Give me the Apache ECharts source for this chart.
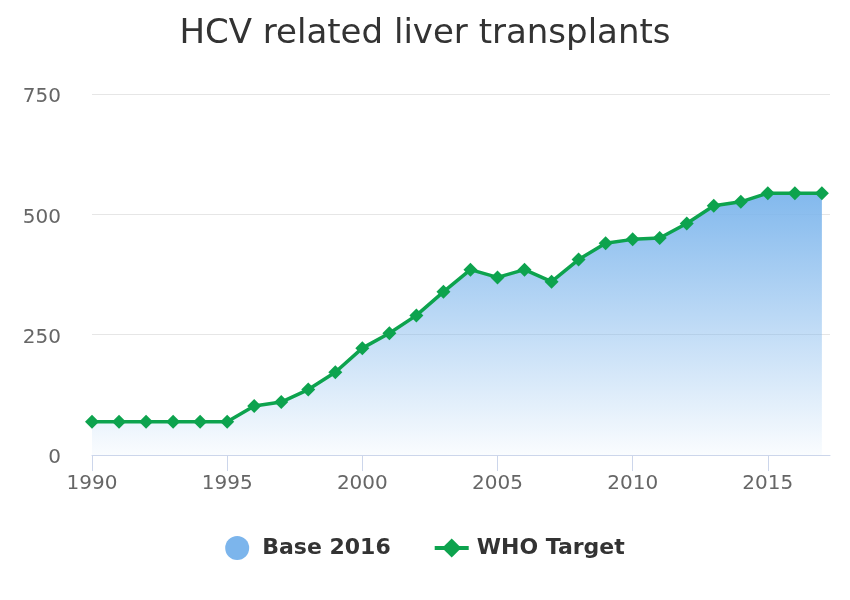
<!DOCTYPE html>
<html>
<head>
<meta charset="utf-8">
<script src="https://cdn.jsdelivr.net/npm/echarts@6/dist/echarts.min.js"></script>
<style>html,body{margin:0;padding:0;background:#fff}#c{width:850px;height:600px}</style>
</head>
<body>
<div id="c"></div>
<script>
var years = [1990,1991,1992,1993,1994,1995,1996,1997,1998,1999,2000,2001,2002,2003,2004,2005,2006,2007,2008,2009,2010,2011,2012,2013,2014,2015,2016,2017];
var base2016 = [69,69,69,69,69,69,102,110,136,172,222,253,290,339,385,369,385,360,406,440,448,451,481,518,526,544,544,544];
var whoTarget = [69,69,69,69,69,69,102,110,136,172,222,253,290,339,385,369,385,360,406,440,448,451,481,518,526,544,544,544];
var xTicks = [1990,1995,2000,2005,2010,2015];
var yTicks = [0,250,500,750];

var font = 'DejaVu Sans';
function pairs(v){ return years.map(function(y,i){ return [y, v[i]]; }); }

var chart = echarts.init(document.getElementById('c'), null, {renderer:'canvas'});
chart.setOption({
  animation: false,
  backgroundColor: '#ffffff',
  title: {
    text: 'HCV related liver transplants',
    left: 'center', top: 12,
    textStyle: { fontFamily: font, fontSize: 34, fontWeight: 'normal', color: '#333333' }
  },
  legend: {
    bottom: 35, left: 'center',
    itemWidth: 34, itemHeight: 24, itemGap: 42,
    textStyle: { fontFamily: font, fontSize: 22, fontWeight: 'bold', color: '#333333', padding: [0,0,0,3] },
    data: [{name: 'Base 2016', icon: 'circle'}, {name: 'WHO Target', lineStyle: { width: 4 }}]
  },
  grid: { left: 92, right: 20, top: 94, bottom: 145, containLabel: false },
  xAxis: {
    type: 'value', min: 1990, max: 2017.3,
    axisLine: { show: true, lineStyle: { color: '#ccd6eb', width: 1 } },
    axisTick: { show: true, length: 16, customValues: xTicks, lineStyle: { color: '#ccd6eb' } },
    axisLabel: { customValues: xTicks, margin: 19, fontFamily: font, fontSize: 20, color: '#666666',
      formatter: function(v){ return String(v); } },
    splitLine: { show: false }
  },
  yAxis: {
    type: 'value', min: 0, max: 750, interval: 250,
    axisLine: { show: false }, axisTick: { show: false },
    axisLabel: { margin: 31, fontFamily: font, fontSize: 20, color: '#666666',
      verticalAlign: 'top', lineHeight: 6,
      customValues: yTicks, formatter: function(v){ return String(v); } },
    splitLine: { show: true, lineStyle: { color: '#e6e6e6', width: 1 } }
  },
  series: [
    {
      name: 'Base 2016', type: 'line', data: pairs(base2016),
      color: '#7cb5ec', showSymbol: false, symbol: 'none',
      lineStyle: { width: 0, opacity: 0 },
      areaStyle: {
        opacity: 1,
        color: new echarts.graphic.LinearGradient(0, 0, 0, 1, [
          { offset: 0, color: 'rgba(124,181,236,0.95)' },
          { offset: 1, color: 'rgba(124,181,236,0.04)' }
        ])
      },
      z: 1
    },
    {
      name: 'WHO Target', type: 'line', data: pairs(whoTarget),
      color: '#0da34e', symbol: 'diamond', symbolSize: 14,
      lineStyle: { width: 3.5, color: '#0da34e' },
      itemStyle: { color: '#0da34e' },
      z: 3
    }
  ]
});
</script>
</body>
</html>
